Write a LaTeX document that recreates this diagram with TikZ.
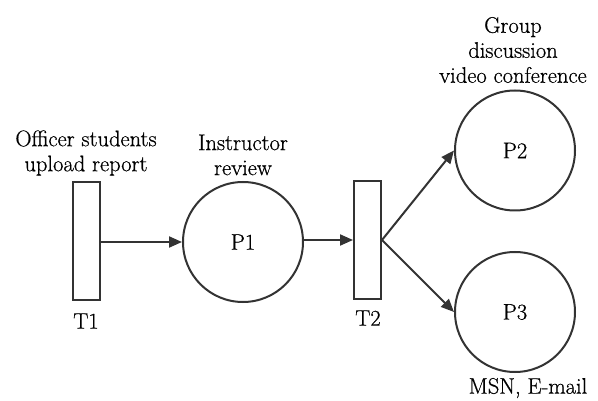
\documentclass[tikz,border=0pt]{standalone}
\usepackage{fontspec}
\newfontfamily\lblfont{Latin Modern Roman}[FakeBold=0.6]
\usetikzlibrary{arrows.meta}
\definecolor{linegray}{HTML}{333333}
\begin{document}
\begin{tikzpicture}[x=1pt,y=-1pt,
  every node/.style={font=\lblfont\fontsize{22.5}{25}\selectfont, text=black},
  trans/.style={draw=linegray, line width=2pt, minimum width=27pt, minimum height=118pt, inner sep=0pt},
  place/.style={draw=linegray, line width=2pt, circle, minimum size=120pt, inner sep=0pt},
  lbl/.style={inner sep=0pt, align=center},
  conn/.style={draw=linegray, line width=2pt, -{Triangle[length=13pt,width=11pt]}}
]
\useasboundingbox (0,0) rectangle (598,401);
\node[trans] (t1) at (86.5,241) {};
\node[trans] (t2) at (367.5,240) {};
\node[place] (p1) at (243,242) {};
\node[place] (p2) at (515,150.5) {};
\node[place] (p3) at (515,312) {};

\node[lbl] (lp1) at (p1.center) {P1};
\node[lbl] (lp2) at (p2.center) {P2};
\node[lbl] (lp3) at (p3.center) {P3};
\node[lbl] (lt1) at (86,321) {T1};
\node[lbl] (lt2) at (368,318) {T2};
\node[lbl] (la) at (86,153) {Officer students\\upload report};
\node[lbl] (lb) at (243,155) {Instructor\\review};
\node[lbl] (lc) at (513,50) {Group\\discussion\\video conference};
\node[lbl] (ld) at (528,388) {MSN, E-mail};

\draw[conn] (t1.east |- p1.west) -- (p1.west);
\draw[conn] (p1.east |- t2.west) -- (t2.west);
\draw[conn] (t2.east) -- (p2.west);
\draw[conn] (t2.east) -- (p3.west);
\end{tikzpicture}
\end{document}
